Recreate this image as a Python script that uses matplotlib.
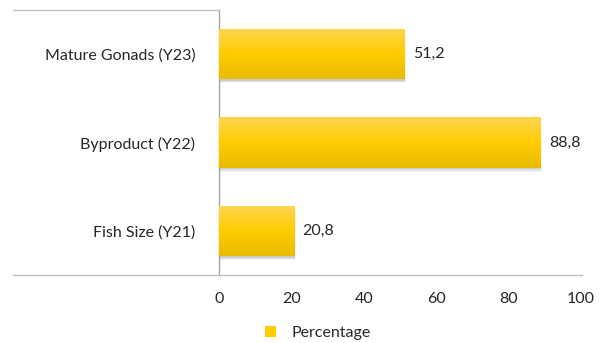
import matplotlib.pyplot as plt
import numpy as np
from matplotlib.colors import LinearSegmentedColormap
from matplotlib.lines import Line2D
from matplotlib.patches import Patch

categories = ['Fish Size (Y21)', 'Byproduct (Y22)', 'Mature Gonads (Y23)']
values = [20.8, 88.8, 51.2]
labels = ['20,8', '88,8', '51,2']
xticks = [0, 20, 40, 60, 80, 100]

plt.rcParams['font.family'] = ['Lato', 'DejaVu Sans']
plt.rcParams['font.size'] = 11.5

fig = plt.figure(figsize=(6.03, 3.43), dpi=100)
ax = fig.add_axes([219 / 603, 1 - 275 / 343, (581 - 219) / 603, 265 / 343])

bar_h = 0.57
ypos = np.arange(len(categories))
grad_cmap = LinearSegmentedColormap.from_list('gold', ['#E9BC00', '#FFCC00', '#FFD650'])
grad = np.linspace(0, 1, 64).reshape(-1, 1)

for y, v, lab in zip(ypos, values, labels):
    # soft shadow under each bar
    for k, a in enumerate([0.10, 0.07, 0.04]):
        ax.barh(y - 0.02 - k * 0.012, v + 0.15 + k * 0.12, height=bar_h, left=0,
                color='black', alpha=a, zorder=1, linewidth=0)
    bar = ax.barh(y, v, height=bar_h, color='#FFCC00', zorder=2, linewidth=0)[0]
    im = ax.imshow(grad, extent=[0, v, y - bar_h / 2, y + bar_h / 2],
                   cmap=grad_cmap, aspect='auto', origin='lower', zorder=3,
                   interpolation='bilinear')
    im.set_clip_path(bar)
    ax.annotate(lab, (v, y), xytext=(6, 0), textcoords='offset points',
                va='center', ha='left', color='#262626')

ax.set_xlim(0, 100)
ax.set_ylim(-0.5, 2.5)
ax.set_yticks(ypos)
ax.set_yticklabels(categories, color='#262626')
ax.set_xticks(xticks)
ax.set_xticklabels([str(t) for t in xticks], color='#262626')
ax.tick_params(axis='x', length=0, pad=12)
ax.tick_params(axis='y', length=0, pad=17)

for s in ['top', 'right', 'bottom']:
    ax.spines[s].set_visible(False)
ax.spines['left'].set_color('#A6A6A6')
ax.spines['left'].set_linewidth(1)

# divider lines across the label area
fig.add_artist(Line2D([13 / 603, 219 / 603], [1 - 10 / 343] * 2, color='#BFBFBF', lw=1))
fig.add_artist(Line2D([13 / 603, 582 / 603], [1 - 275 / 343] * 2, color='#BFBFBF', lw=1))

handle = Patch(facecolor='#FFCC00', edgecolor='none')
fig.legend([handle], ['Percentage'], loc='center', bbox_to_anchor=(0.527, 1 - 333 / 343),
           frameon=False, handlelength=0.7, handleheight=0.7, handletextpad=1.0,
           labelcolor='#262626')

fig.savefig('out.png', dpi=100)
